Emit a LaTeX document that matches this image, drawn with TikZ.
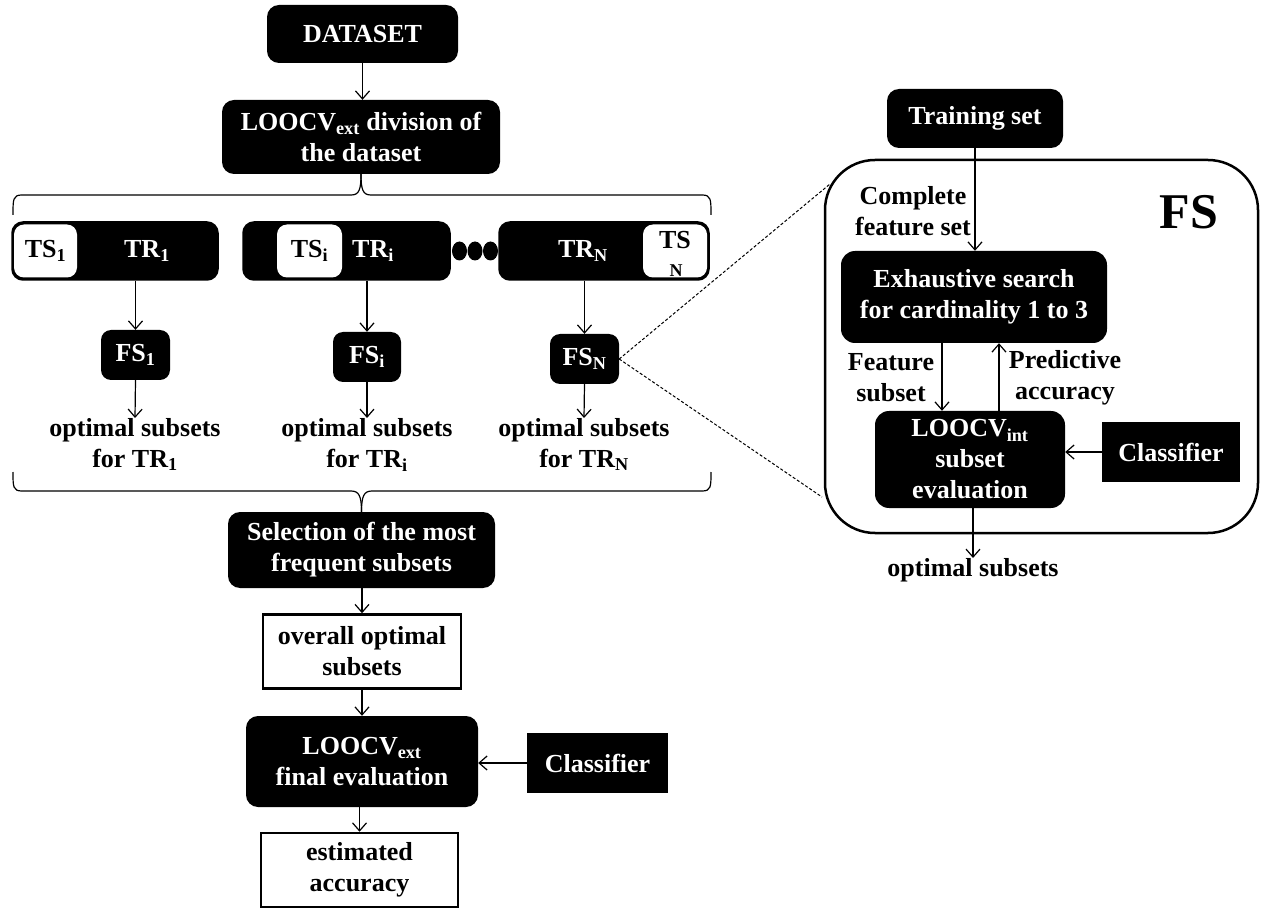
\documentclass[tikz,border=0pt]{standalone}
\usepackage{fontspec}
\setmainfont{Liberation Serif}
\usetikzlibrary{arrows.meta}
\newcommand\dtxt{\fontsize{26}{31}\selectfont\bfseries}
\newcommand\dsmall{\fontsize{18}{20}\selectfont\bfseries}
\begin{document}
\begin{tikzpicture}[x=1pt,y=-1pt,
  blk/.style={fill=black, text=white, rounded corners=12pt, align=center, inner sep=0pt, font=\dtxt},
  wht/.style={draw=black, line width=2.5pt, fill=white, align=center, inner sep=0pt, font=\dtxt},
  sqbox/.style={fill=black, text=white, inner sep=0pt, font=\dtxt},
  tsbox/.style={fill=white, rounded corners=10pt, inner sep=0pt, font=\dtxt},
  lbl/.style={align=center, inner sep=0pt, font=\dtxt},
  wlbl/.style={text=white, inner sep=0pt, font=\dtxt},
  arr/.style={line width=1.2pt, -{Straight Barb[length=8pt,width=14pt]}},
  brc/.style={line width=1.2pt},
  dsh/.style={line width=1pt, dash pattern=on 3pt off 2pt}]
\useasboundingbox (0,0) rectangle (1262,909);
\fill[white] (0,0) rectangle (1262,909);

% ---------- left column ----------
\node[blk, minimum width=191pt, minimum height=58pt] (ds) at (362.5,34) {DATASET};
\node[blk, minimum width=278pt, minimum height=74pt] (div) at (361,137) {LOOCV\textsubscript{ext} division of\\the dataset};
\draw[arr] (ds.south) -- (div.north -| ds.south);

% top brace
\draw[brc] (13,215) .. controls (13,199) and (13,195) .. (22,195) -- (351,195) .. controls (359,195) and (361,190) .. (div.south);
\draw[brc] (div.south) .. controls (361,190) and (363,195) .. (371,195) -- (702,195) .. controls (711,195) and (711,199) .. (711,215);

% row boxes
\node[blk, draw=black, line width=1.5pt, rounded corners=11pt, minimum width=206pt, minimum height=58pt] (r1) at (115,251) {};
\node[tsbox, minimum width=63pt, minimum height=53pt] (ts1) at (45.5,251) {TS\textsubscript{1}};
\node[wlbl] (tr1) at (147,251) {TR\textsubscript{1}};

\node[blk, draw=black, line width=1.5pt, rounded corners=11pt, minimum width=207pt, minimum height=58pt] (r2) at (346.5,251) {};
\node[tsbox, minimum width=65pt, minimum height=53pt] (ts2) at (309.5,251) {TS\textsubscript{i}};
\node[wlbl] (tr2) at (373,251) {TR\textsubscript{i}};

\fill (459.5,251) ellipse [x radius=7.5pt, y radius=9.5pt];
\fill (475,251) ellipse [x radius=7.5pt, y radius=9.5pt];
\fill (490.5,251) ellipse [x radius=7.5pt, y radius=9.5pt];

\node[blk, draw=black, line width=1.5pt, rounded corners=11pt, minimum width=210pt, minimum height=58pt] (r3) at (604,251) {};
\node[tsbox, minimum width=64pt, minimum height=53pt] (ts3) at (675,251) {};
\node[lbl] (ts3a) at (675,240) {TS};
\node[lbl, font=\dsmall] (ts3b) at (676,271) {N};
\node[wlbl] (tr3) at (583,251) {TR\textsubscript{N}};

% FS boxes
\node[blk, rounded corners=10pt, minimum width=69pt, minimum height=50pt] (fs1) at (135.5,355) {FS\textsubscript{1}};
\node[blk, rounded corners=10pt, minimum width=68pt, minimum height=50pt] (fs2) at (367,357) {FS\textsubscript{i}};
\node[blk, rounded corners=10pt, minimum width=69pt, minimum height=50pt] (fs3) at (584.5,359) {FS\textsubscript{N}};
\draw[arr] (fs1.north |- r1.south) -- (fs1.north);
\draw[arr] (fs2.north |- r2.south) -- (fs2.north);
\draw[arr] (fs3.north |- r3.south) -- (fs3.north);

% optimal subsets texts
\node[lbl, anchor=north] (o1) at (135,418) {optimal subsets\\for TR\textsubscript{1}};
\node[lbl, anchor=north] (o2) at (367,418) {optimal subsets\\for TR\textsubscript{i}};
\node[lbl, anchor=north] (o3) at (584,418) {optimal subsets\\for TR\textsubscript{N}};
\draw[arr] (fs1.south) -- (o1.north);
\draw[arr] (fs2.south) -- (o2.north);
\draw[arr] (fs3.south) -- (o3.north);

% lower part
\node[blk, minimum width=267pt, minimum height=76pt] (sel) at (361.5,550) {Selection of the most\\frequent subsets};
\draw[brc] (13,472) .. controls (13,487) and (13,491) .. (22,491) -- (351,491) .. controls (359,491) and (361.5,496) .. (sel.north);
\draw[brc] (sel.north) .. controls (361.5,496) and (364,491) .. (372,491) -- (702,491) .. controls (711,491) and (711,487) .. (711,472);

\node[wht, minimum width=198pt, minimum height=74pt] (ovr) at (362,651.5) {overall optimal\\subsets};
\draw[arr] (sel.south -| ovr.north) -- (ovr.north);

\node[blk, minimum width=232pt, minimum height=91pt] (fin) at (362,761.5) {LOOCV\textsubscript{ext}\\final evaluation};
\draw[arr] (ovr.south) -- (fin.north);

\node[sqbox, minimum width=141pt, minimum height=60pt] (cls1) at (597.5,763) {Classifier};
\draw[arr] (cls1.west) -- (fin.east |- cls1.west);

\node[wht, minimum width=197pt, minimum height=74pt] (est) at (359.5,870) {estimated\\accuracy};
\draw[arr] (fin.south -| est.north) -- (est.north);

% ---------- right panel ----------
\node[blk, minimum width=176pt, minimum height=59pt] (tr) at (975,118.5) {Training set};
\draw[line width=2.5pt, rounded corners=50pt] (825,160) rectangle (1258,533);
\node[inner sep=0pt, font=\fontsize{50}{50}\selectfont\bfseries] (fslab) at (1189,212) {FS};
\node[lbl] (cfs) at (913,211) {Complete\\feature set};

\node[blk, rounded corners=14pt, minimum width=266pt, minimum height=92pt] (exh) at (974,297) {Exhaustive search\\for cardinality 1 to 3};
\draw[arr] (tr.south) -- (exh.north -| tr.south);

\node[blk, rounded corners=14pt, minimum width=190pt, minimum height=97pt] (loi) at (970,459.5) {LOOCV\textsubscript{int}\\subset\\evaluation};
\coordinate (dnx) at (942,0);
\coordinate (upx) at (999,0);
\draw[arr] (exh.south -| dnx) -- (loi.north -| dnx);
\draw[arr] (loi.north -| upx) -- (exh.south -| upx);
\node[lbl] (fsub) at (891,378) {Feature\\subset};
\node[lbl] (pacc) at (1065,378) {Predictive\\accuracy};

\node[sqbox, minimum width=138pt, minimum height=60pt] (cls2) at (1171,452) {Classifier};
\draw[arr] (cls2.west) -- (loi.east |- cls2.west);

\node[lbl, anchor=north] (ores) at (973,558) {optimal subsets};
\draw[arr] (loi.south -| ores.north) -- (ores.north);

% dashed zoom lines
\coordinate (zt) at (830,184);
\coordinate (zb) at (822,497);
\draw[dsh] (fs3.east) -- (zt);
\draw[dsh] (fs3.east) -- (zb);
\end{tikzpicture}
\end{document}
